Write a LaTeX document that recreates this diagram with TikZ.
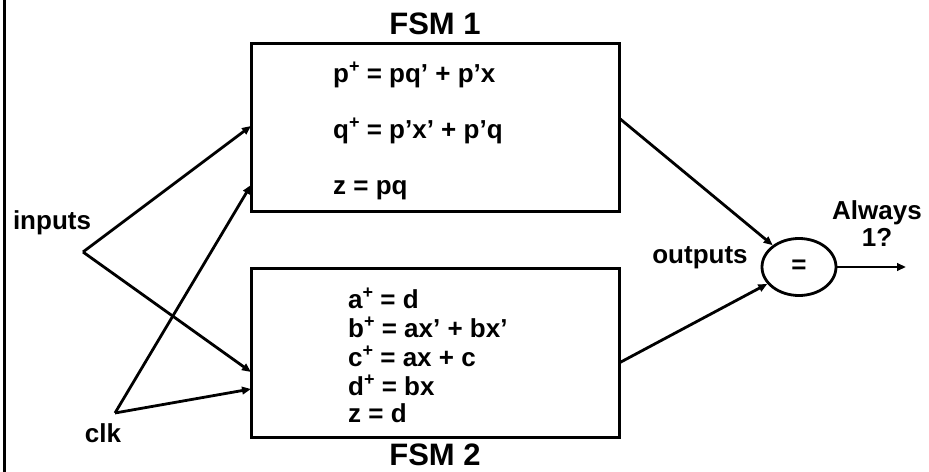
\documentclass[tikz,border=0pt]{standalone}
\usepackage{fontspec}
\setmainfont{Liberation Sans}
\usetikzlibrary{shapes.geometric,arrows.meta}
\newcommand{\plussup}{\raisebox{0.38em}{\fontsize{18bp}{18bp}\selectfont +}}
\begin{document}
\begin{tikzpicture}[x=1bp,y=-1bp,
  lbl/.style={font=\fontsize{26bp}{29bp}\selectfont\bfseries, inner sep=0pt},
  big/.style={font=\fontsize{31bp}{34bp}\selectfont\bfseries, inner sep=0pt},
  fsmbox/.style={draw, line width=3bp, inner sep=0pt},
  conn/.style={line width=2.8bp, -{Triangle[length=9bp,width=7.5bp]}}]
\useasboundingbox (0,0) rectangle (929,472);
\draw[line width=3bp] (4,0) -- (4,472);
% boxes
\node[fsmbox, minimum width=368bp, minimum height=168bp] (f1) at (435,128) {};
\node[fsmbox, minimum width=368bp, minimum height=168bp] (f2) at (435,353) {};
\node[big] (t1) at (435,24) {FSM 1};
\node[big] (t2) at (435,455) {FSM 2};
% FSM1 equations
\node[lbl, anchor=west] (e1) at (333,75) {p\plussup{} = pq’ + p’x};
\node[lbl, anchor=west] (e2) at (333,131) {q\plussup{} = p’x’ + p’q};
\node[lbl, anchor=west] (e3) at (333,190) {z = pq};
% FSM2 equations
\node[lbl, anchor=west] (g1) at (348,298) {a\plussup{} = d};
\node[lbl, anchor=west] (g2) at (348,327) {b\plussup{} = ax’ + bx’};
\node[lbl, anchor=west] (g3) at (348,356) {c\plussup{} = ax + c};
\node[lbl, anchor=west] (g4) at (348,385) {d\plussup{} = bx};
\node[lbl, anchor=west] (g5) at (348,413) {z = d};
% labels
\node[lbl] (inl) at (52,223) {inputs};
\node[lbl] (clkl) at (103,433) {clk};
\node[lbl] (outl) at (700,258) {outputs};
\node[lbl, align=center, font=\fontsize{26bp}{27bp}\selectfont\bfseries] (al) at (877,224) {Always\\1?};
% comparator
\node[draw, ellipse, line width=2.8bp, minimum width=74bp, minimum height=57bp, lbl, inner sep=0pt] (eq) at (799,267) {=};
% coordinates
\coordinate (inv) at (83,252);
\coordinate (clkv) at (115,413);
\coordinate (f1a) at (251,126);
\coordinate (f1b) at (251,185);
\coordinate (f2a) at (251,372);
\coordinate (f2b) at (251,389);
\coordinate (f1o) at (619,118);
\coordinate (f2o) at (619,363);
\coordinate (outp) at (906,267);
% connectors
\draw[conn] (inv) -- (f1a);
\draw[conn] (inv) -- (f2a);
\draw[conn] (clkv) -- (f1b);
\draw[conn] (clkv) -- (f2b);
\draw[conn] (f1o) -- (eq);
\draw[conn] (f2o) -- (eq);
\draw[conn] (eq.east) -- (outp);
\end{tikzpicture}
\end{document}
